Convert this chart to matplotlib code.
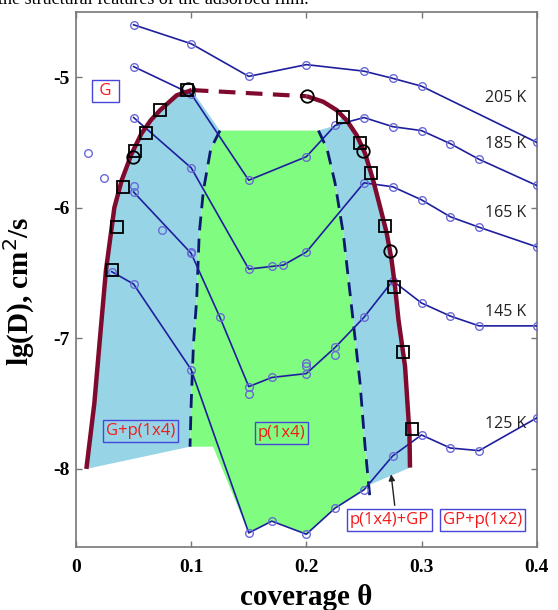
import matplotlib
matplotlib.use('Agg')
import matplotlib.pyplot as plt

plt.rcParams['axes.unicode_minus'] = False

# diffusion data, lg(D) vs coverage, one curve per temperature
t205_x = [0.05, 0.10, 0.15, 0.20, 0.25, 0.275, 0.30, 0.40]
t205_y = [-4.60, -4.745, -4.995, -4.905, -4.955, -5.01, -5.07, -5.50]

t185_x = [0.05, 0.10, 0.15, 0.20, 0.225, 0.25, 0.275, 0.30, 0.325, 0.35, 0.40]
t185_y = [-4.92, -5.13, -5.79, -5.61, -5.37, -5.31, -5.38, -5.41, -5.51, -5.63, -5.83]

t165_x = [0.05, 0.10, 0.15, 0.17, 0.18, 0.20, 0.25, 0.275, 0.30, 0.325, 0.35, 0.40]
t165_y = [-5.31, -5.695, -6.47, -6.45, -6.44, -6.34, -5.81, -5.84, -5.94, -6.07, -6.15, -6.30]

t145_x = [0.05, 0.10, 0.125, 0.15, 0.17, 0.20, 0.225, 0.25, 0.275, 0.30, 0.325, 0.35, 0.40]
t145_y = [-5.88, -6.35, -6.84, -7.37, -7.30, -7.27, -7.07, -6.84, -6.56, -6.73, -6.83, -6.905, -6.905]

t125_x = [0.031, 0.05, 0.10, 0.15, 0.17, 0.20, 0.225, 0.25, 0.275, 0.30, 0.325, 0.35, 0.40]
t125_y = [-6.49, -6.585, -7.24, -8.49, -8.40, -8.50, -8.30, -8.16, -7.90, -7.74, -7.84, -7.86, -7.61]

curves = [(t205_x, t205_y, '205 K', -5.16), (t185_x, t185_y, '185 K', -5.515),
          (t165_x, t165_y, '165 K', -6.04), (t145_x, t145_y, '145 K', -6.80),
          (t125_x, t125_y, '125 K', -7.655)]

# repeated / stray measurements
extra_x = [0.01, 0.0246, 0.05, 0.075, 0.10, 0.15, 0.20, 0.20, 0.225]
extra_y = [-5.585, -5.77, -5.835, -6.17, -6.337, -7.426, -7.19, -7.215, -7.126]

# phase boundary (G region)
bnd_left_x = [0.009, 0.0159, 0.0208, 0.026, 0.0333, 0.0397, 0.0484, 0.057, 0.065, 0.073, 0.0874, 0.1005]
bnd_left_y = [-8.0, -7.5, -7.0, -6.48, -6.0, -5.79, -5.585, -5.43, -5.33, -5.254, -5.14, -5.10]
bnd_right_x = [0.2003, 0.2148, 0.2264, 0.235, 0.2437, 0.251, 0.258, 0.264, 0.2698, 0.274, 0.277, 0.280, 0.2857, 0.2895, 0.290]
bnd_right_y = [-5.147, -5.19, -5.254, -5.331, -5.445, -5.585, -5.79, -5.993, -6.196, -6.40, -6.604, -6.859, -7.215, -7.724, -7.99]
bnd_top_x = [0.1005, 0.2003]
bnd_top_y = [-5.10, -5.147]

sq_x = [0.031, 0.0353, 0.041, 0.0512, 0.0608, 0.073, 0.096, 0.2321, 0.2466, 0.2559, 0.2683, 0.2764, 0.2843, 0.2915]
sq_y = [-6.48, -6.15, -5.84, -5.57, -5.425, -5.25, -5.10, -5.306, -5.504, -5.733, -6.138, -6.604, -7.106, -7.694]
ci_x = [0.0498, 0.0975, 0.2003, 0.2495, 0.2727]
ci_y = [-5.61, -5.09, -5.147, -5.565, -6.332]

# p(1x4) borders
dl_x = [0.125, 0.117, 0.1106, 0.107, 0.1048, 0.102, 0.100, 0.099]
dl_y = [-5.41, -5.55, -5.87, -6.20, -6.70, -7.04, -7.50, -7.83]
dr_x = [0.2105, 0.218, 0.2249, 0.2321, 0.238, 0.2466, 0.251, 0.2553]
dr_y = [-5.41, -5.55, -5.81, -6.20, -6.66, -7.34, -7.83, -8.23]

blue_c = '#1f1f9e'
edge_c = '#6a6ad6'
maroon = '#7f0a2e'
navy = '#0b1a6e'
lblue = '#97d4e6'
green = '#80fc80'

fig = plt.figure(figsize=(5.58, 6.10), dpi=100)
ax = fig.add_axes([0.1362, 0.1028, 0.8256, 0.878])

# filled regions
lb_x = bnd_left_x + dl_x + [0.009]
lb_y = bnd_left_y + dl_y + [-8.0]
ax.fill(lb_x, lb_y, color=lblue, lw=0, zorder=1)

rb_x = [0.2105, 0.2255, 0.231] + bnd_right_x[3:] + [0.2553] + dr_x[:-1][::-1]
rb_y = [-5.41, -5.37, -5.31] + bnd_right_y[3:] + [-8.12] + dr_y[:-1][::-1]
ax.fill(rb_x, rb_y, color=lblue, lw=0, zorder=1)

g_x = dr_x[:-1] + [0.2553] + t125_x[3:8][::-1] + [0.119] + dl_x[::-1]
g_y = dr_y[:-1] + [-8.12] + t125_y[3:8][::-1] + [-7.83] + dl_y[::-1]
ax.fill(g_x, g_y, color=green, lw=0, zorder=1)

ax.plot(dl_x, dl_y, '--', color=navy, lw=2, dashes=(5, 3), zorder=2)
ax.plot(dr_x, dr_y, '--', color=navy, lw=2, dashes=(5, 3), zorder=2)

for xs, ys, lab, ly in curves:
    ax.plot(xs, ys, '-', color=blue_c, lw=1.2, marker='o', ms=5.5,
            mfc='none', mec=edge_c, mew=1.0, zorder=3)
    ax.text(0.355, ly, lab, fontsize=11.5, family='Open Sans', color='#222222',
            ha='left', va='center', zorder=6)
ax.plot(extra_x, extra_y, 'o', ms=5.5, mfc='none', mec=edge_c, mew=1.0, zorder=3)

ax.plot(bnd_left_x, bnd_left_y, '-', color=maroon, lw=3.2, solid_capstyle='butt', zorder=4)
ax.plot(bnd_right_x, bnd_right_y, '-', color=maroon, lw=3.2, solid_capstyle='butt', zorder=4)
ax.plot(bnd_top_x, bnd_top_y, '--', color=maroon, lw=3, dashes=(4, 2.5), zorder=4)

ax.plot(sq_x, sq_y, 's', ms=8, mfc='none', mec='black', mew=1.3, zorder=5)
ax.plot(ci_x, ci_y, 'o', ms=9, mfc='none', mec='black', mew=1.3, zorder=5)

box = dict(boxstyle='square,pad=0.18', fc='none', ec='#4646dc', lw=1)
phase_labels = [(' G ', 0.0255, -5.109), ('G+p(1x4)', 0.0563, -7.71), ('p(1x4)', 0.1783, -7.724),
                ('p(1x4)+GP', 0.2722, -8.394), ('GP+p(1x2)', 0.3533, -8.394)]
for txt, x, y in phase_labels:
    ax.text(x, y, txt, fontsize=12, family='Open Sans', color='#f41a1a',
            ha='center', va='center', bbox=box, zorder=6)

ax.annotate('', xy=(0.2733, -8.02), xytext=(0.277, -8.30),
            arrowprops=dict(arrowstyle='-|>', color='#222222', lw=1, mutation_scale=9), zorder=6)

ax.set_xlim(0, 0.4)
ax.set_ylim(-8.6, -4.5)
ax.set_xticks([0, 0.1, 0.2, 0.3, 0.4])
ax.set_xticklabels(['0', '0.1', '0.2', '0.3', '0.4'])
ax.set_yticks([-8, -7, -6, -5])
ax.set_yticklabels(['-8', '-7', '-6', '-5'])
ax.tick_params(direction='in', top=True, right=True, length=4, width=1, color='#777777')
ax.tick_params(axis='x', pad=8.5)
ax.tick_params(axis='y', pad=4.5)
for lbl in ax.get_xticklabels() + ax.get_yticklabels():
    lbl.set_fontfamily('Liberation Serif')
    lbl.set_fontweight('bold')
    lbl.set_fontsize(14)
for sp in ax.spines.values():
    sp.set_color('#777777')
    sp.set_linewidth(1.2)

ax.set_xlabel('coverage θ', fontsize=21, family='Liberation Serif', fontweight='bold', labelpad=6)
ax.set_ylabel('lg(D), cm$^2$/s', fontsize=21, family='Liberation Serif', fontweight='bold')
ax.yaxis.set_label_coords(-0.085, 0.4785)

fig.text(-0.004, 0.994, 'the structural features of the adsorbed film.', fontsize=13,
         family='Liberation Serif', ha='left', va='baseline')

fig.savefig('out.png', dpi=100)
